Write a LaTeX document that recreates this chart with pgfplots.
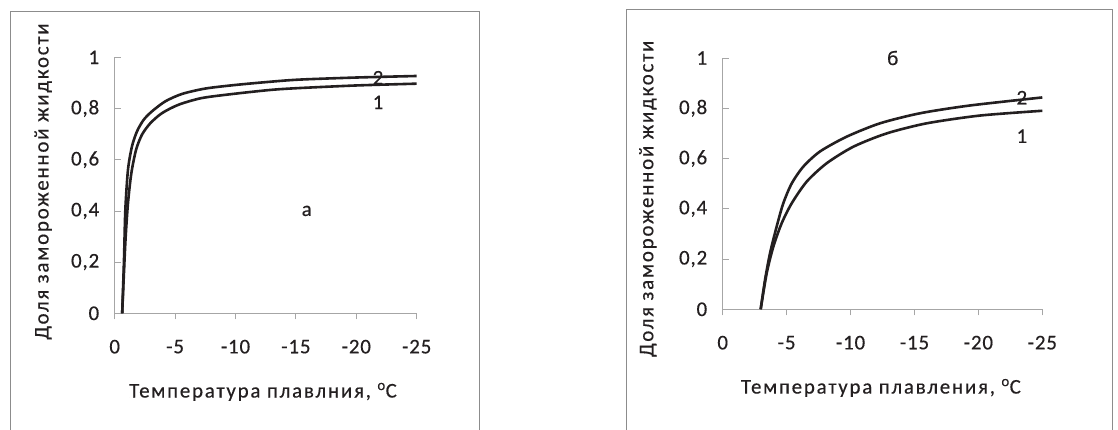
\documentclass[border=0pt]{standalone}
\usepackage{fontspec}
\setmainfont{Carlito}
\newfontfamily\spaced[LetterSpace=8.5, FakeBold=0.4]{Carlito}
\newfontfamily\ticks[LetterSpace=4, FakeBold=0.4]{Carlito}
\usepackage{pgfplots}
\pgfplotsset{compat=1.18}

\definecolor{axisgray}{HTML}{A6A6A6}
\definecolor{boxgray}{HTML}{8C8C8C}
\definecolor{ink}{HTML}{231F20}

\tikzset{mark label/.style={font=\ticks\fontsize{21}{25}\selectfont, text=ink}}

\pgfplotsset{
  panel/.style={
    scale only axis,
    anchor=south west,
    axis x line*=bottom, axis y line*=left,
    x dir=reverse,
    xmin=-25, xmax=0, ymin=0, ymax=1,
    xtick={0,-5,-10,-15,-20,-25},
    xticklabels={0,-5,-10,-15,-20,-25},
    ytick={0,0.2,0.4,0.6,0.8,1},
    yticklabels={0,{0,2},{0,4},{0,6},{0,8},1},
    axis line style={draw=axisgray, line width=0.8pt},
    tick style={draw=axisgray, line width=0.8pt},
    tick align=inside, major tick length=6bp,
    x tick style={yshift=-6bp},
    every tick label/.append style={font=\ticks\fontsize{21}{25}\selectfont, text=ink},
    xticklabel style={yshift=-23bp},
    yticklabel style={xshift=-12bp},
    label style={font=\spaced\fontsize{21}{25}\selectfont, text=ink},
    clip=false,
  },
  curve/.style={draw=ink, line width=2.6bp, smooth, tension=0.45},
}

\begin{document}
\begin{tikzpicture}
\path[use as bounding box] (0bp,0bp) rectangle (1118bp,430bp);
\draw[boxgray, line width=0.8bp] (10.5bp,0bp) -- (10.5bp,419bp) -- (479.5bp,419bp) -- (479.5bp,0bp);
\draw[boxgray, line width=0.8bp] (626bp,0bp) -- (626bp,421bp) -- (1112bp,421bp) -- (1112bp,0bp);

% left panel (a)
\begin{axis}[panel, at={(114.7bp,116.7bp)}, width=302bp, height=256bp,
  xlabel={Температура плавлния, \textsuperscript{o}C},
  ylabel={Доля замороженной жидкости},
  xlabel style={at={(axis description cs:0.491,-0.307)}, anchor=center},
  ylabel style={at={(axis description cs:-0.237,0.515)}, anchor=center},
]
\addplot[curve] coordinates {(-0.62,0) (-0.77,0.209) (-0.88,0.404) (-1.10,0.561) (-1.43,0.652) (-1.85,0.711) (-2.40,0.756) (-3.09,0.789) (-4.19,0.828) (-5.58,0.857) (-7.51,0.878) (-10.0,0.892) (-13.0,0.905) (-15.35,0.913) (-20,0.921) (-25,0.927)};
\addplot[curve] coordinates {(-0.62,0) (-0.88,0.274) (-1.10,0.43) (-1.38,0.548) (-1.77,0.639) (-2.26,0.698) (-2.96,0.743) (-3.92,0.782) (-5.30,0.815) (-7.23,0.841) (-10,0.858) (-13.0,0.873) (-15.35,0.880) (-20,0.890) (-25,0.897)};
\node[mark label] at (axis cs:-21.8,0.92) {2};
\node[mark label] at (axis cs:-21.8,0.824) {1};
\node[mark label] at (axis cs:-15.9,0.40) {а};
\end{axis}

% right panel (b)
\begin{axis}[panel, at={(722.7bp,120.7bp)}, width=319.6bp, height=251.3bp,
  xlabel={Температура плавления, \textsuperscript{o}C},
  ylabel={Доля замороженной жидкости},
  xlabel style={at={(axis description cs:0.495,-0.313)}, anchor=center},
  ylabel style={at={(axis description cs:-0.234,0.44)}, anchor=center},
]
\addplot[curve] coordinates {(-2.97,0) (-3.31,0.117) (-3.70,0.223) (-4.22,0.329) (-4.74,0.422) (-5.40,0.501) (-6.31,0.568) (-7.61,0.628) (-9.70,0.687) (-12.30,0.740) (-15.43,0.780) (-19.34,0.811) (-25,0.843)};
\addplot[curve] coordinates {(-2.97,0) (-3.44,0.143) (-3.96,0.249) (-4.61,0.342) (-5.40,0.422) (-6.57,0.508) (-8.13,0.581) (-10.22,0.647) (-12.83,0.700) (-15.95,0.740) (-20.13,0.771) (-25,0.790)};
\node[mark label] at (axis cs:-23.4,0.842) {2};
\node[mark label] at (axis cs:-23.4,0.689) {1};
\node[mark label] at (axis cs:-13.3,1.0) {б};
\end{axis}
\end{tikzpicture}
\end{document}
